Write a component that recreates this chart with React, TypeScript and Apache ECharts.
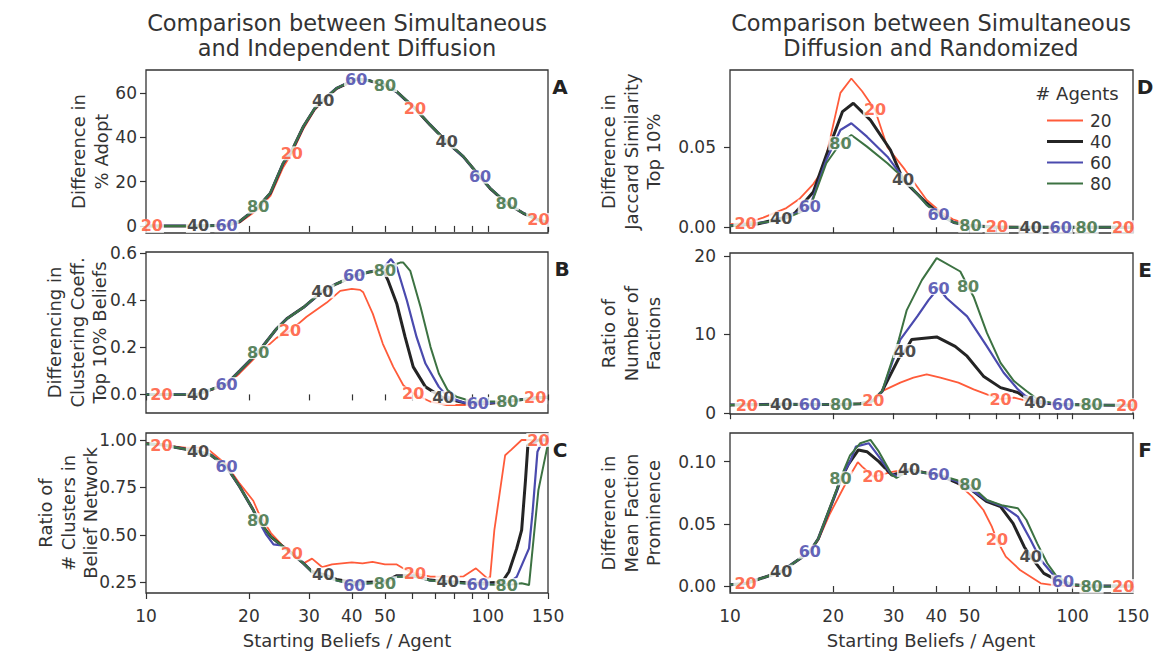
import React, { useEffect, useRef } from 'react';
import * as echarts from 'echarts';

const AGENTS = ['20', '40', '60', '80'];
const X_TICKS = [10, 20, 30, 40, 50, 60, 70, 80, 90, 100, 150];
const X_LABELS = [10, 20, 30, 40, 50, 100, 150];

// Panel A: Difference in % Adopt
const A20 = [[10,0],[10.4,0],[12,0],[14.2,0],[17.2,0],[18.8,1.5],[21.3,7.5],[23.1,13.5],[25.2,26.5],[26.7,32.8],[28.9,44],[31.2,52.5],[33,56.3],[36.1,61.8],[41.2,66.0],[45.2,65.5],[50,63.6],[54.1,60.6],[61.2,53.1],[67.8,45.6],[75.8,38],[84.8,31.3],[94.9,22.2],[101.5,17],[113.6,10.2],[127,5.7],[140.6,2.7],[150,1.6]];
const A40 = [[10,0],[12,0],[14.2,0],[17.2,0.3],[18.8,2],[21.3,8.7],[23.1,14.7],[25.2,28.3],[26.7,34],[28.9,45],[31.2,53.1],[33,56.8],[36.1,62.1],[41.2,66.3],[45.2,65.5],[50,63.6],[54.1,60.6],[61.2,53.1],[67.8,45.6],[75.8,38],[84.8,31.3],[94.9,22.2],[101.5,17],[113.6,10.2],[127,5.7],[140.6,2.7],[150,1.6]];
const A60 = [[10,0],[12,0],[14.2,0],[17.2,0.3],[18.8,2],[21.3,8.8],[23.1,14.8],[25.2,28.4],[26.7,34],[28.9,45],[31.2,53.2],[33,56.9],[36.1,62.2],[41.2,66.3],[45.2,65.6],[50,63.7],[54.1,60.6],[61.2,53.2],[67.8,45.7],[75.8,38.1],[84.8,31.3],[94.9,22.2],[101.5,17.1],[113.6,10.3],[127,5.8],[140.6,2.8],[150,1.7]];
const A80 = [[10,0],[12,0],[14.2,0],[17.2,0.3],[18.8,2.1],[21.3,8.7],[23.1,14.9],[25.2,28.5],[26.7,34.1],[28.9,45.1],[31.2,53.2],[33,56.9],[36.1,62.2],[41.2,66.2],[45.2,65.6],[50,63.6],[54.1,60.7],[61.2,53.2],[67.8,45.7],[75.8,38.1],[84.8,31.4],[94.9,22.3],[101.5,17.1],[113.6,10.2],[127,5.8],[140.6,2.8],[150,1.7]];
const A_LBL = [[10.4, 26.7, 61.2, 140.6], [14.2, 33, 75.8], [17.2, 41.2, 94.9], [21.3, 50, 113.6]];

// Panel B: Differencing in Clustering Coeff. Top 10% Beliefs
const B20 = [[10,0],[11.1,0],[14.2,0],[17.2,0.04],[18.8,0.09],[21.3,0.17],[24.1,0.24],[26.4,0.27],[29.5,0.33],[33.8,0.39],[37,0.44],[40,0.448],[42.3,0.444],[43.2,0.434],[46.1,0.342],[49.3,0.215],[52.9,0.117],[56.6,0.039],[60.5,0.004],[68,-0.031],[75.8,-0.045],[90,-0.045],[110,-0.035],[137.6,-0.012],[150,-0.01]];
const B40 = [[10,0],[11.1,0],[14.2,0.001],[17.2,0.044],[18.8,0.1],[21.3,0.18],[24.1,0.279],[25.8,0.321],[28.9,0.37],[32.8,0.438],[36.1,0.47],[40.6,0.504],[45,0.52],[49.3,0.53],[51.1,0.483],[54.2,0.384],[57.3,0.243],[60.5,0.117],[65.7,0.032],[74.1,-0.015],[85,-0.035],[97.4,-0.04],[111,-0.032],[137.6,-0.015],[150,-0.012]];
const B60 = [[10,0],[11.1,0],[14.2,0.001],[17.2,0.044],[18.8,0.1],[21.3,0.18],[24.1,0.279],[25.8,0.321],[28.9,0.37],[32.8,0.438],[36.1,0.47],[40.6,0.504],[45,0.52],[49.3,0.535],[52.1,0.575],[54.2,0.539],[58,0.398],[61.9,0.243],[65.7,0.131],[71.9,0.032],[76.3,-0.01],[85,-0.035],[93.5,-0.04],[111,-0.032],[137.6,-0.015],[150,-0.012]];
const B80 = [[10,0],[11.1,0],[14.2,0.001],[17.2,0.044],[18.8,0.1],[21.3,0.18],[24.1,0.279],[25.8,0.321],[28.9,0.37],[32.8,0.438],[36.1,0.47],[40.6,0.504],[45,0.52],[50,0.528],[53,0.55],[55.4,0.56],[56.6,0.56],[59.3,0.525],[63.6,0.37],[68,0.201],[71.9,0.089],[76.3,0.018],[81,-0.01],[90,-0.03],[114,-0.03],[137.6,-0.015],[150,-0.012]];
const B_LBL = [[11.1, 26.4, 60.5, 137.6], [14.2, 32.8, 74.1], [17.2, 40.6, 93.5], [21.3, 50, 114]];

// Panel C: Ratio of # Clusters in Belief Network
const C20 = [[10,0.985],[11.1,0.973],[13,0.96],[15,0.96],[17.2,0.87],[18.8,0.77],[20.6,0.68],[21.3,0.62],[23.2,0.51],[24.9,0.45],[26.7,0.403],[28.9,0.35],[30.6,0.375],[32.8,0.33],[35,0.345],[40,0.355],[43,0.35],[46,0.358],[50,0.345],[54,0.345],[57,0.32],[61.2,0.297],[68,0.28],[76.3,0.28],[85,0.282],[92.3,0.324],[99.9,0.27],[101.6,0.279],[104.5,0.525],[112.4,0.92],[116.8,0.947],[125.6,1.0],[140.6,1.0],[150,1.0]];
const C40 = [[10,0.98],[11.1,0.975],[14.2,0.94],[15.5,0.92],[17.2,0.859],[18.8,0.754],[20.6,0.631],[21.3,0.578],[23.2,0.49],[24.9,0.445],[26.7,0.403],[28.9,0.35],[30.6,0.306],[33,0.292],[36.1,0.265],[40.7,0.25],[45,0.25],[50,0.255],[54.2,0.285],[61.2,0.285],[67.8,0.262],[76.3,0.253],[93.4,0.245],[110,0.25],[115.3,0.306],[121.5,0.429],[125.6,0.525],[128.9,0.789],[131,0.973],[140.6,1.0],[150,1.0]];
const C60 = [[10,0.98],[11.1,0.975],[14.2,0.94],[15.5,0.92],[17.2,0.859],[18.8,0.754],[20.6,0.631],[21.3,0.578],[22.5,0.5],[23.6,0.45],[24.9,0.445],[26.7,0.403],[28.9,0.35],[30.6,0.306],[33,0.285],[36.1,0.26],[40.7,0.236],[45,0.245],[50,0.255],[54.2,0.28],[61.2,0.28],[67.8,0.26],[76.3,0.25],[93.4,0.24],[113.6,0.24],[121.5,0.279],[132,0.429],[135.1,0.613],[139.7,0.938],[145,1.0],[150,1.0]];
const C80 = [[10,0.98],[11.1,0.975],[14.2,0.94],[15.5,0.92],[17.2,0.859],[18.8,0.754],[20.6,0.631],[21.3,0.578],[23.2,0.49],[24.9,0.445],[26.7,0.403],[28.9,0.35],[30.6,0.306],[33,0.285],[36.1,0.26],[40.7,0.24],[45,0.245],[50,0.245],[54.2,0.28],[61.2,0.28],[67.8,0.26],[76.3,0.25],[93.4,0.24],[113.6,0.236],[125.6,0.245],[132,0.236],[140.6,0.736],[149,0.956],[150,0.97]];
const C_LBL = [[11.1, 26.7, 61.2, 140.6], [14.2, 33, 76.3], [17.2, 40.7, 93.4], [21.3, 50, 113.6]];

// Panel D: Difference in Jaccard Similarity Top 10%
const D20 = [[10,0.002],[11.1,0.0025],[12.5,0.006],[14.6,0.012],[16,0.018],[17.5,0.027],[18.7,0.036],[21,0.084],[22.6,0.093],[24.3,0.085],[26.5,0.0733],[28.8,0.05],[32.4,0.036],[37.5,0.017],[41,0.01],[44.7,0.005],[50,0.0015],[60.1,0.0005],[75,0],[100,0],[140.4,0],[150,0]];
const D40 = [[10,0.001],[12,0.002],[14.1,0.0056],[15.5,0.009],[17.5,0.022],[19.1,0.045],[21.3,0.0723],[22.9,0.0775],[25.7,0.067],[29.4,0.0483],[32,0.0296],[37.5,0.015],[41,0.008],[45,0.003],[50,0.001],[60,0],[75.4,0],[100,0],[150,0]];
const D60 = [[10,0.001],[14,0.004],[17.1,0.0129],[19.1,0.042],[21,0.0608],[22.6,0.065],[25.1,0.0566],[28.8,0.0441],[32,0.031],[37.5,0.014],[40.6,0.0077],[45,0.003],[50,0.001],[60,0],[92.3,0],[150,0]];
const D80 = [[10,0.001],[14,0.004],[17.1,0.012],[19.1,0.04],[21,0.0525],[22.6,0.0577],[25.1,0.0504],[28.8,0.04],[32,0.031],[37.5,0.014],[41,0.007],[45,0.003],[50.3,0.001],[60,0],[109.8,0],[150,0]];
const D_LBL = [[11.1, 26.5, 60.1, 140.4], [14.1, 32, 75.4], [17.1, 40.6, 92.3], [21, 50.3, 109.8]];

// Panel E: Ratio of Number of Factions
const E20 = [[10,1.05],[11.2,1.0],[14.1,1.1],[17.1,1.1],[21.1,1.1],[24,1.2],[26.2,1.56],[27.8,2.8],[31.4,3.88],[34.3,4.51],[37.5,4.93],[41.1,4.51],[46.4,3.88],[51.4,3.03],[56.2,2.4],[61.6,1.8],[67.4,1.98],[73,1.6],[80,1.3],[93.7,1.1],[113.5,1.05],[144.1,1.0],[150,1.0]];
const E40 = [[10,1.05],[14.1,1.14],[17.1,1.1],[21.1,1.1],[24,1.2],[26.2,1.6],[27.8,2.8],[31.1,7.0],[32.4,7.9],[33.9,9.35],[40.1,9.69],[45.4,8.5],[49.2,7.24],[54.9,4.71],[61.6,3.25],[69.2,2.62],[73.3,1.9],[77.8,1.35],[93.7,1.1],[113.5,1.05],[150,1.0]];
const E60 = [[10,1.05],[14.1,1.1],[17.1,1.14],[21.1,1.1],[24,1.2],[26.2,1.6],[27.8,2.8],[31.4,9.35],[35.2,12.3],[38,14.4],[40.6,15.9],[42.9,14.6],[49.2,12.3],[56.2,8.5],[62.9,5.14],[69.2,3.03],[72.9,2.19],[80,1.4],[93.7,1.05],[113.5,1.05],[150,1.0]];
const E80 = [[10,1.05],[14.1,1.1],[17.1,1.1],[21.1,1.14],[24,1.2],[26.2,1.6],[27.8,2.8],[31.1,9.35],[32.8,13.1],[36.3,16.9],[40.1,19.7],[47,18.0],[49.5,16.1],[51.4,14.8],[56.2,10.2],[61.6,6.4],[67.4,4.08],[73.3,2.82],[80,1.6],[93.7,1.1],[113.5,1.05],[150,1.0]];
const E_LBL = [[11.2, 26.2, 61.6, 144.1], [14.1, 32.4, 77.8], [17.1, 40.6, 93.7], [21.1, 49.5, 113.5]];

// Panel F: Difference in Mean Faction Prominence
const F20 = [[10,0.001],[11.1,0.0022],[14.1,0.0115],[17.1,0.0276],[18.1,0.037],[19.6,0.0585],[21.4,0.0786],[22.6,0.0907],[23.6,0.0995],[24.3,0.096],[26.2,0.088],[28,0.09],[30,0.092],[33.3,0.094],[40.6,0.0893],[46,0.083],[50.9,0.0718],[54.9,0.0611],[58.1,0.0477],[60.1,0.037],[63.8,0.0236],[70.2,0.0129],[80.7,0.0022],[87.9,0.0008],[100,0],[140.4,0],[150,0]];
const F40 = [[10,0.001],[11.1,0.002],[14.1,0.0115],[17.1,0.0276],[18.1,0.038],[20.5,0.077],[21,0.085],[22.1,0.0973],[23.7,0.1094],[25.1,0.108],[27.2,0.1],[29.7,0.089],[33.3,0.0933],[40.6,0.0893],[46,0.083],[50.3,0.078],[56,0.068],[61.6,0.0638],[67,0.0504],[72.2,0.0316],[75.4,0.0236],[82.4,0.0102],[89.9,0.0048],[100,0.001],[113.5,0],[150,0]];
const F60 = [[10,0.001],[11.1,0.002],[14.1,0.0115],[17.1,0.0276],[18.1,0.038],[20.5,0.077],[21,0.086],[22.4,0.1],[23.3,0.112],[25.4,0.1148],[27.2,0.104],[29.4,0.0907],[30.8,0.088],[33.3,0.093],[40.6,0.0893],[46,0.084],[50.3,0.078],[56,0.069],[62.9,0.0638],[69.2,0.0558],[75.4,0.037],[80.7,0.0209],[87.9,0.0088],[93.7,0.0035],[100,0.001],[113.5,0],[150,0]];
const F80 = [[10,0.001],[11.1,0.002],[14.1,0.0115],[17.1,0.0276],[18.1,0.038],[20.5,0.078],[21,0.0866],[22.4,0.105],[24,0.1148],[25.7,0.1175],[27.2,0.108],[29.7,0.0893],[30.6,0.087],[33.3,0.093],[40.6,0.0895],[46,0.085],[50.3,0.0813],[56.2,0.0692],[62,0.065],[69.2,0.0625],[73.3,0.0531],[78.8,0.0343],[84.3,0.0183],[89.9,0.0075],[100,0.001],[113.5,-0.0005],[150,0]];
const F_LBL = [[11.1, 26.2, 60.1, 140.4], [14.1, 33.3, 75.4], [17.1, 40.6, 93.7], [21, 50.3, 113.5]];

// y tick values
const A_YT = [0, 20, 40, 60];
const B_YT = [0, 0.2, 0.4, 0.6];
const C_YT = [0.25, 0.5, 0.75, 1.0];
const D_YT = [0, 0.05];
const E_YT = [0, 10, 20];
const F_YT = [0, 0.05, 0.1];

const COLORS = ['#ff5b3a', '#242424', '#4a4aae', '#3c7242'];
const LABEL_COLORS = ['#ff4a28', '#1c1c1c', '#3b3ba6', '#2f6534'];
const WIDTHS = [1.8, 3, 2.2, 2];
const FONT = '"DejaVu Sans", sans-serif';
const lg = (v: number) => Math.log10(v);

const PANELS = [
  { letter: 'A', data: [A20, A40, A60, A80], lbl: A_LBL, yt: A_YT, dec: 0, min: -3.2, max: 70.4, grid: { left: 146, top: 70, width: 402, height: 163 }, xl: false,
    name: 'Difference in\n% Adopt', nx: 90, lx: 560, ym: 9 },
  { letter: 'B', data: [B20, B40, B60, B80], lbl: B_LBL, yt: B_YT, dec: 1, min: -0.079, max: 0.605, grid: { left: 146, top: 252, width: 402, height: 161 }, xl: false,
    name: 'Differencing in\nClustering Coeff.\nTop 10% Beliefs', nx: 77, lx: 562, ym: 9 },
  { letter: 'C', data: [C20, C40, C60, C80], lbl: C_LBL, yt: C_YT, dec: 2, min: 0.194, max: 1.037, grid: { left: 146, top: 433, width: 402, height: 160 }, xl: true,
    name: 'Ratio of\n# Clusters in\nBelief Network', nx: 68, lx: 560, ym: 9 },
  { letter: 'D', data: [D20, D40, D60, D80], lbl: D_LBL, yt: D_YT, dec: 2, min: -0.0036, max: 0.0983, grid: { left: 730, top: 70, width: 403, height: 163 }, xl: false,
    name: 'Difference in\nJaccard Similarity\nTop 10%', nx: 631, lx: 1145, ym: 14 },
  { letter: 'E', data: [E20, E40, E60, E80], lbl: E_LBL, yt: E_YT, dec: 0, min: -0.1, max: 20.35, grid: { left: 730, top: 253, width: 403, height: 161 }, xl: false,
    name: 'Ratio of\nNumber of\nFactions', nx: 631, lx: 1145, ym: 14 },
  { letter: 'F', data: [F20, F40, F60, F80], lbl: F_LBL, yt: F_YT, dec: 2, min: -0.0056, max: 0.123, grid: { left: 730, top: 433, width: 403, height: 160 }, xl: true,
    name: 'Difference in\nMean Faction\nProminence', nx: 631, lx: 1145, ym: 14 },
];

function nearest(data: number[][], x: number) {
  let best = data[0];
  for (const p of data) if (Math.abs(lg(p[0]) - lg(x)) < Math.abs(lg(best[0]) - lg(x))) best = p;
  return best;
}

// legend icon: horizontal bar of given thickness inside a 36x14 box
const barIcon = (h: number) => `path://M0,0M36,14M0,${7 - h / 2}H36V${7 + h / 2}H0Z`;

function buildOption() {
  const grid: any[] = [];
  const xAxis: any[] = [];
  const yAxis: any[] = [];
  const series: any[] = [];
  const graphic: any[] = [];

  PANELS.forEach((p, gi) => {
    grid.push({ ...p.grid, show: true, borderColor: '#333', borderWidth: 1.3, backgroundColor: 'transparent' });
    xAxis.push({
      type: 'value', gridIndex: gi, min: lg(10), max: lg(150),
      axisLine: { show: false }, splitLine: { show: false },
      axisTick: { show: true, length: 6, customValues: X_TICKS.map(lg), lineStyle: { color: '#333', width: 1.2 } },
      axisLabel: {
        show: p.xl, customValues: X_LABELS.map(lg), margin: 14,
        formatter: (v: number) => String(Math.round(Math.pow(10, v))),
        fontSize: 17, color: '#333', fontFamily: FONT,
      },
    });
    yAxis.push({
      type: 'value', gridIndex: gi, min: p.min, max: p.max,
      axisLine: { show: false }, splitLine: { show: false },
      axisTick: { show: true, length: 6, customValues: p.yt, lineStyle: { color: '#333', width: 1.2 } },
      axisLabel: {
        customValues: p.yt, margin: p.ym,
        formatter: (v: number) => v.toFixed(p.dec),
        fontSize: 17, color: '#333', fontFamily: FONT,
      },
    });
    p.data.forEach((d, i) => {
      series.push({
        type: 'line', name: AGENTS[i], xAxisIndex: gi, yAxisIndex: gi,
        data: d.map(([x, y]) => [lg(x), y]),
        symbol: 'none', showSymbol: false, silent: true,
        lineStyle: { color: COLORS[i], width: WIDTHS[i] },
        itemStyle: { color: COLORS[i] },
        z: 2,
      });
    });
    const lblData: any[] = [];
    p.lbl.forEach((xs, i) => {
      xs.forEach((x) => {
        const pt = nearest(p.data[i], x);
        lblData.push({
          name: AGENTS[i], value: [lg(pt[0]), pt[1]],
          label: { color: LABEL_COLORS[i] },
        });
      });
    });
    series.push({
      type: 'scatter', name: 'labels' + p.letter, xAxisIndex: gi, yAxisIndex: gi,
      symbol: 'circle', symbolSize: 1, itemStyle: { color: 'rgba(0,0,0,0)' }, silent: true, z: 5,
      data: lblData,
      label: {
        show: true, position: 'inside', formatter: '{b}',
        fontSize: 16, fontWeight: 'bold', fontFamily: FONT,
        backgroundColor: '#fff', padding: [0, 1], lineHeight: 14,
      },
    });

    graphic.push({
      type: 'text', x: p.nx, y: p.grid.top + p.grid.height / 2, rotation: Math.PI / 2,
      style: { text: p.name, font: `18px ${FONT}`, fill: '#333', align: 'center', verticalAlign: 'middle', lineHeight: 22.5 },
    });
    graphic.push({
      type: 'text', x: p.lx, y: p.grid.top + 17,
      style: { text: p.letter, font: `bold 20px ${FONT}`, fill: '#222', align: 'center', verticalAlign: 'middle' },
    });
  });

  graphic.push(
    { type: 'text', x: 347, y: 35, style: { text: 'Comparison between Simultaneous\nand Independent Diffusion', font: `22.5px ${FONT}`, fill: '#333', align: 'center', verticalAlign: 'middle', lineHeight: 25 } },
    { type: 'text', x: 931, y: 35, style: { text: 'Comparison between Simultaneous\nDiffusion and Randomized', font: `22.5px ${FONT}`, fill: '#333', align: 'center', verticalAlign: 'middle', lineHeight: 25 } },
    { type: 'text', x: 347, y: 640, style: { text: 'Starting Beliefs / Agent', font: `18px ${FONT}`, fill: '#333', align: 'center', verticalAlign: 'middle' } },
    { type: 'text', x: 931, y: 640, style: { text: 'Starting Beliefs / Agent', font: `18px ${FONT}`, fill: '#333', align: 'center', verticalAlign: 'middle' } },
    { type: 'text', x: 1077, y: 93, style: { text: '# Agents', font: `18px ${FONT}`, fill: '#333', align: 'center', verticalAlign: 'middle' } },
  );

  return {
    animation: false,
    backgroundColor: '#fff',
    grid, xAxis, yAxis, series, graphic,
    legend: {
      data: AGENTS.map((a, i) => ({ name: a, icon: barIcon(WIDTHS[i]), itemStyle: { color: COLORS[i] } })),
      orient: 'vertical', left: 1042, top: 107,
      itemWidth: 36, itemHeight: 14, itemGap: 4, selectedMode: false,
      textStyle: { fontSize: 17, color: '#333', fontFamily: FONT, padding: [0, 0, 0, 2] },
    },
  };
}

export default function App() {
  const ref = useRef<HTMLDivElement>(null);
  useEffect(() => {
    if (!ref.current) return;
    const chart = echarts.init(ref.current, undefined, { renderer: 'svg' });
    chart.setOption(buildOption() as any);
    return () => chart.dispose();
  }, []);
  return <div ref={ref} style={{ position: 'fixed', left: 0, top: 0, width: 1155, height: 654, background: '#fff' }} />;
}
